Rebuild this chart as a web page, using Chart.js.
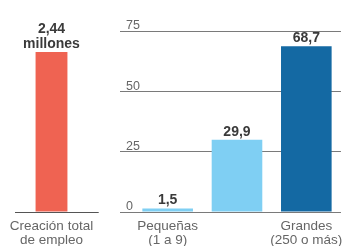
<!DOCTYPE html>
<html>
<head>
<meta charset="utf-8">
<script src="https://cdn.jsdelivr.net/npm/chart.js@4"></script>
<style>
  html, body { margin: 0; padding: 0; background: #fff; overflow: hidden; }
  #wrap { position: relative; width: 351px; height: 246px; overflow: hidden; }
  #left { position: absolute; left: 0; top: 0; }
  #right { position: absolute; left: 120px; top: 0; }
  .val { position: absolute; transform: translate(-50%, -50%); font: bold 14px "Liberation Sans", Arial, sans-serif; color: #3a3a3a; white-space: nowrap; line-height: 1; }
</style>
</head>
<body>
<div id="wrap">
  <canvas id="left" width="103" height="246"></canvas>
  <canvas id="right" width="231" height="246"></canvas>
</div>
<script>
const totalCategory = [['Creación total', 'de empleo']];
const totalValues = [2.44];
const totalUnit = 'millones';
const sizeCategories = [['Pequeñas', '(1 a 9)'], ['Medianas', '(10 a 249)'], ['Grandes', '(250 o más)']];
const sizeValues = [1.5, 29.9, 68.7];
const yTickValues = [0, 25, 50, 75];

const FONT = '"Liberation Sans", Arial, sans-serif';
const totalColor = '#EF6352';
const sizeColors = ['#7FCFF3', '#7FCFF3', '#1469A3'];
const gridColor = '#7a7a7a';
const baseColor = '#555';
const fmt = v => String(v).replace('.', ',');
const xTickFont = { family: FONT, size: 13.5, lineHeight: 1.0 };

const leftChart = new Chart(document.getElementById('left'), {
  type: 'bar',
  data: { labels: totalCategory, datasets: [{ data: totalValues, backgroundColor: totalColor, barPercentage: 0.44, categoryPercentage: 1 }] },
  options: {
    responsive: false, animation: false,
    layout: { padding: { left: 8, right: 0, top: 31, bottom: 0 } },
    plugins: { legend: { display: false }, tooltip: { enabled: false } },
    scales: {
      x: { grid: { display: false, drawTicks: false }, border: { display: true, color: baseColor },
           afterFit: s => { s.height = 34; },
           ticks: { font: xTickFont, padding: 8, maxRotation: 0 } },
      y: { position: 'right', min: 0, max: 2.76, border: { display: false },
           afterBuildTicks: s => { s.ticks = [{ value: 0 }]; },
           grid: { drawOnChartArea: false, tickLength: 11, color: baseColor, tickColor: baseColor },
           ticks: { display: false }, afterFit: s => { s.width = 11; } }
    }
  }
});

const rightChart = new Chart(document.getElementById('right'), {
  type: 'bar',
  data: { labels: sizeCategories, datasets: [{ data: sizeValues, backgroundColor: sizeColors, barPercentage: 0.73, categoryPercentage: 1 }] },
  options: {
    responsive: false, animation: false,
    layout: { padding: { left: 0, right: 4, top: 31, bottom: 0 } },
    plugins: { legend: { display: false }, tooltip: { enabled: false } },
    scales: {
      x: { grid: { display: false, drawTicks: false }, border: { display: false },
           afterFit: s => { s.height = 34; },
           ticks: { font: xTickFont, padding: 8, maxRotation: 0 } },
      y: { min: 0, max: 75, afterBuildTicks: s => { s.ticks = yTickValues.map(v => ({ value: v })); },
           afterFit: s => { s.width = 13; }, border: { display: false },
           grid: { color: gridColor, tickColor: gridColor, tickLength: 13 },
           ticks: { mirror: true, padding: -7, labelOffset: -5, font: { family: FONT, size: 12.5 } } }
    }
  }
});

function addValueLabels(chart, unit) {
  const wrap = document.getElementById('wrap');
  const offX = chart.canvas.offsetLeft, offY = chart.canvas.offsetTop;
  const data = chart.data.datasets[0].data;
  chart.getDatasetMeta(0).data.forEach((bar, i) => {
    const lines = [fmt(data[i])];
    if (unit) lines.push(unit);
    lines.slice().reverse().forEach((t, k) => {
      const d = document.createElement('div');
      d.className = 'val';
      d.textContent = t;
      d.style.left = (offX + bar.x) + 'px';
      d.style.top = (offY + bar.y - 9 - k * 15) + 'px';
      wrap.appendChild(d);
    });
  });
}
addValueLabels(leftChart, totalUnit);
addValueLabels(rightChart, null);
</script>
</body>
</html>
